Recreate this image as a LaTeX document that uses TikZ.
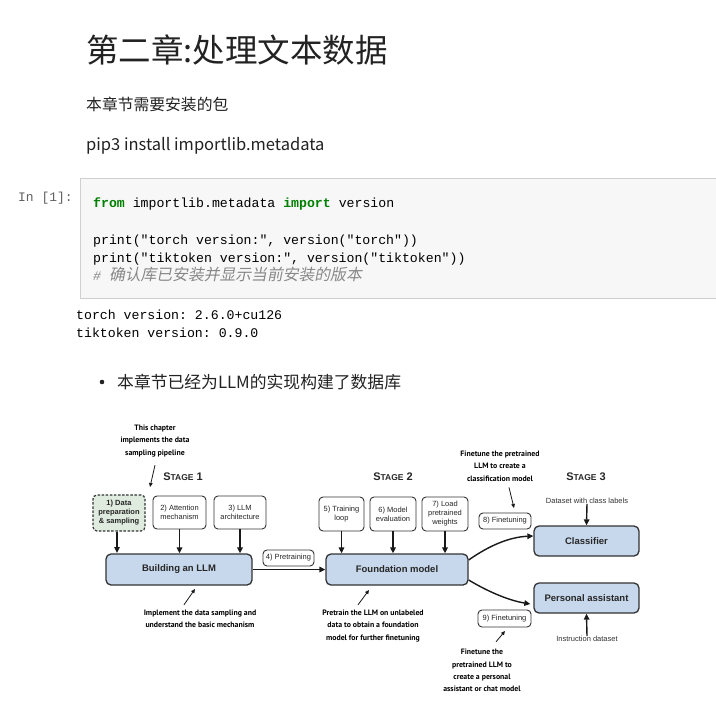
\documentclass[tikz,border=0pt]{standalone}
\usepackage{fontspec}
\setmainfont{Liberation Sans}
\setmonofont{Liberation Mono}
\newfontfamily\cjk{Noto Sans CJK SC}
\newfontfamily\cjkit{Noto Sans CJK SC}[FakeSlant=0.2]
\newfontfamily\annfont{PT Sans}
\usetikzlibrary{arrows.meta}

\definecolor{kwgreen}{HTML}{008000}
\definecolor{cellbg}{HTML}{F7F7F7}
\definecolor{cellbd}{HTML}{CFCFCF}
\definecolor{boxblue}{HTML}{C8D8EC}
\definecolor{boxgreen}{HTML}{DFEBDF}
\definecolor{inkdark}{HTML}{333333}
\definecolor{promptgray}{HTML}{616161}
\definecolor{commentgray}{HTML}{888888}
\definecolor{mdtext}{HTML}{222222}

\newcommand{\setfsz}[2]{\fontsize{#1}{#2}\selectfont}

\tikzset{
  mdtxt/.style={anchor=base west, inner sep=0pt, text=mdtext},
  codetxt/.style={anchor=base west, inner sep=0pt, font=\ttfamily\setfsz{13.2}{13.2}, text=black},
  smallbox/.style={draw=inkdark, line width=0.9pt, rounded corners=4pt, fill=white, align=center,
    font=\setfsz{7.5}{9}, inner sep=0pt, text=black!85},
  bigbox/.style={draw=inkdark, line width=1.3pt, rounded corners=5pt, fill=boxblue,
    font=\bfseries\setfsz{9.5}{11}, inner sep=0pt, text=black!85},
  arr/.style={line width=1.4pt, draw=black!90, -{Triangle[length=6pt,width=5.5pt]}},
  thinarr/.style={line width=0.8pt, draw=black!90, -{Triangle[length=4pt,width=3.6pt]}},
  ann/.style={font=\annfont\bfseries\setfsz{7.8}{12.4}, align=center, inner sep=0pt, text=black},
  stagelbl/.style={inner sep=0pt, text=black!85},
  plainlbl/.style={inner sep=0pt, font=\setfsz{7.5}{9}, text=black!80},
}

\newcommand{\stagetext}[1]{\bfseries\setfsz{11}{11}S\setfsz{8.5}{8.5}TAGE\setfsz{11}{11} #1}

\begin{document}
\begin{tikzpicture}[x=1pt,y=-1pt]
\fill[white] (0,0) rectangle (716,716);
\useasboundingbox (0,0) rectangle (716,716);

% ---------- markdown part ----------
\node[mdtxt, font=\cjk\setfsz{32.5}{32.5}] (title) at (86,62) {第二章:处理文本数据};
\node[mdtxt, font=\cjk\setfsz{15.8}{15.8}] (need) at (86,110) {本章节需要安装的包};
\node[mdtxt, font=\cjk\setfsz{16.5}{16.5}] (pip) at (86,150) {pip3 install importlib.metadata};

% ---------- code cell ----------
\node[anchor=base west, inner sep=0pt, font=\ttfamily\setfsz{13}{13}, text=promptgray] (prompt) at (18,201) {In [1]:};
\path[fill=cellbg, draw=cellbd, line width=0.8pt] (80,178) rectangle (720,298);
\node[codetxt] (c1) at (93,207.5) {\textcolor{kwgreen}{\bfseries from} importlib.metadata \textcolor{kwgreen}{\bfseries import} version};
\node[codetxt] (c2) at (93,244) {print("torch version:", version("torch"))};
\node[codetxt] (c3) at (93,262.3) {print("tiktoken version:", version("tiktoken"))};
\node[anchor=base west, inner sep=0pt, text=commentgray] (c4) at (93,280.6)
  {{\ttfamily\itshape\setfsz{13.2}{13.2}\# }{\cjkit\setfsz{15.8}{15.8}确认库已安装并显示当前安装的版本}};

\node[codetxt] (o1) at (76,319) {torch version: 2.6.0+cu126};
\node[codetxt] (o2) at (76,337.3) {tiktoken version: 0.9.0};

% ---------- bullet ----------
\fill[mdtext] (102,382) circle (2.3);
\node[mdtxt, font=\cjk\setfsz{16.8}{16.8}] (bullet) at (117,388.5) {本章节已经为LLM的实现构建了数据库};

% ---------- diagram ----------
\node[ann] (ann1) at (155,441) {This chapter\\implements the data\\sampling pipeline};
\node[stagelbl] (s1) at (183,477) {\stagetext{1}};
\node[stagelbl] (s2) at (393,477) {\stagetext{2}};
\node[stagelbl] (s3) at (586,477) {\stagetext{3}};

\node[smallbox, fill=boxgreen, dashed, dash pattern=on 2.5pt off 1.6pt, line width=1.2pt,
      minimum width=52pt, minimum height=36pt, font=\bfseries\setfsz{7.5}{9}] (b1) at (119,513)
      {1) Data\\preparation\\\& sampling};
\node[smallbox, minimum width=53pt, minimum height=33pt] (b2) at (179.5,512.5) {2) Attention\\mechanism};
\node[smallbox, minimum width=52pt, minimum height=33pt] (b3) at (240,512.5) {3) LLM\\architecture};

\node[bigbox, minimum width=146pt, minimum height=31pt] (build) at (179,569.5) {Building an LLM};

\node[smallbox, minimum width=51pt, minimum height=16pt] (pre) at (288.5,558) {4) Pretraining};

\node[smallbox, minimum width=45pt, minimum height=34pt] (b5) at (341.5,514) {5) Training\\loop};
\node[smallbox, minimum width=46pt, minimum height=34pt] (b6) at (393,514) {6) Model\\evaluation};
\node[smallbox, minimum width=46pt, minimum height=34pt] (b7) at (445,514) {7) Load\\pretrained\\weights};

\node[bigbox, minimum width=142pt, minimum height=31pt] (found) at (397,569.5) {Foundation model};

\node[smallbox, minimum width=52pt, minimum height=16pt] (f8) at (505,521) {8) Finetuning};
\node[smallbox, minimum width=53pt, minimum height=17pt] (f9) at (504.5,618.5) {9) Finetuning};

\node[bigbox, minimum width=105pt, minimum height=30pt] (cls) at (586.5,541) {Classifier};
\node[bigbox, minimum width=105pt, minimum height=30pt] (pa) at (586.5,598) {Personal assistant};

\node[plainlbl] (dsl) at (587,501) {Dataset with class labels};
\node[plainlbl] (ids) at (587,639) {Instruction dataset};

\node[ann] (ann2) at (200,619) {Implement the data sampling and\\understand the basic mechanism};
\node[ann] (ann3) at (373,626) {Pretrain the LLM on unlabeled\\data to obtain a foundation\\model for further finetuning};
\node[ann] (ann4) at (500,466) {Finetune the pretrained\\LLM to create a\\classification model};
\node[ann] (ann5) at (482,670.5) {Finetune the\\pretrained LLM to\\create a personal\\assistant or chat model};

% main arrows
\draw[arr] (b1.south -| 117,0) -- (117,553);
\draw[arr] (b2.south) -- (b2.south |- build.north);
\draw[arr] (b3.south) -- (b3.south |- build.north);
\draw[arr] (b5.south) -- (b5.south |- found.north);
\draw[arr] (b6.south) -- (b6.south |- found.north);
\draw[arr] (b7.south) -- (b7.south |- found.north);
\draw[arr] (build.east) -- (found.west);
\draw[arr] ([yshift=9.5pt]found.east) .. controls (490,545) and (510,537) .. ([yshift=5pt]cls.west);
\draw[arr] ([yshift=-10.5pt]found.east) .. controls (492,594) and (512,601) .. ([yshift=-6pt,xshift=-3pt]pa.west);
\draw[arr] (dsl.south) -- (cls.north);
\draw[arr] (ids.north) -- (pa.south);

% annotation arrows
\coordinate (t1) at (150,487);
\coordinate (t2) at (195,589);
\coordinate (t3) at (369,590);
\coordinate (t4) at (514,508);
\coordinate (t5) at (505,631);
\draw[thinarr] ([yshift=-8pt]ann1.south) -- (t1);
\draw[thinarr] ([xshift=-16pt,yshift=5pt]ann2.north) -- (t2);
\draw[thinarr] ([xshift=-15pt,yshift=5pt]ann3.north) -- (t3);
\draw[thinarr] ([xshift=9pt,yshift=-6pt]ann4.south) -- (t4);
\draw[thinarr] ([xshift=14pt,yshift=7pt]ann5.north) -- (t5);
\end{tikzpicture}
\end{document}
